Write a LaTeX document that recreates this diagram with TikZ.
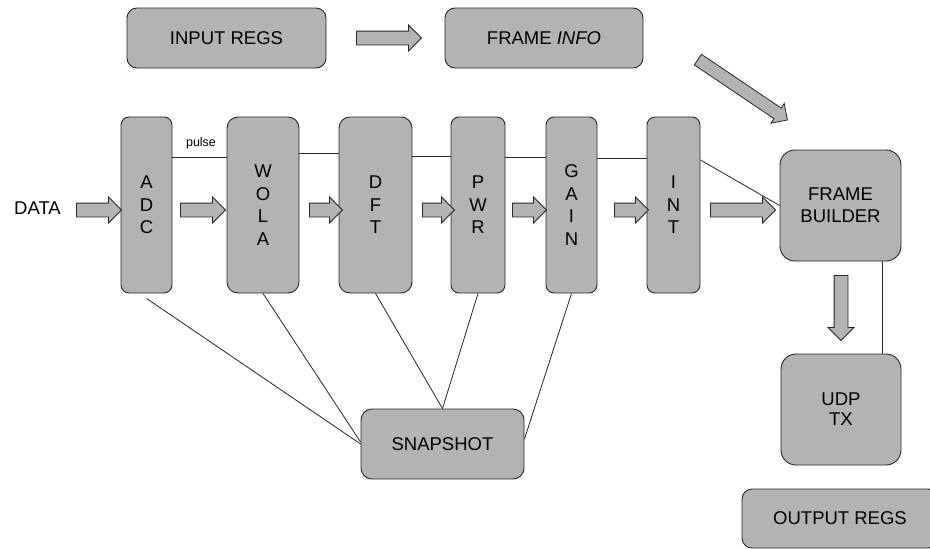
\documentclass[tikz,border=0pt]{standalone}
\usepackage{fontspec}
\setmainfont{Liberation Sans}
\usetikzlibrary{shapes.arrows}
\definecolor{boxfill}{RGB}{179,179,179}
\definecolor{boxline}{RGB}{38,38,38}
\begin{document}
\begin{tikzpicture}[x=1pt,y=-1pt,
  blk/.style={draw=boxline, fill=boxfill, line width=0.9pt, rounded corners=8pt,
    inner sep=0pt, align=center, text=black,
    font=\fontsize{18.5}{22.5}\selectfont},
  barrow/.style={single arrow, draw=boxline, fill=boxfill, line width=0.8pt,
    inner xsep=0pt, inner ysep=6.5pt, single arrow head extend=6pt,
    single arrow tip angle=90, minimum width=0pt},
  conn/.style={draw=black!85, line width=0.8pt},
  lbl/.style={inner sep=0pt, text=black}]
\clip (0,0) rectangle (930,549);
\fill[white] (0,0) rectangle (930,549);

% top row
\node[blk, minimum width=199pt, minimum height=60pt, rounded corners=10pt] (inreg) at (226.5,38) {INPUT REGS};
\node[blk, minimum width=198pt, minimum height=60pt, rounded corners=10pt] (finfo) at (544,38) {FRAME \textit{INFO}};

% processing blocks
\node[blk, minimum width=51pt, minimum height=176pt] (adc) at (146.5,205) {A\\D\\C};
\node[blk, minimum width=72pt, minimum height=176pt, rounded corners=11pt] (wola) at (263,205) {W\\O\\L\\A};
\node[blk, minimum width=73pt, minimum height=176pt, rounded corners=11pt] (dft) at (375.5,205) {D\\F\\T};
\node[blk, minimum width=54pt, minimum height=176pt] (pwr) at (478,205) {P\\W\\R};
\node[blk, minimum width=51pt, minimum height=176pt] (gain) at (571.5,205) {G\\A\\I\\N};
\node[blk, minimum width=53pt, minimum height=176pt] (int) at (673.5,205) {I\\N\\T};

\node[blk, minimum width=121pt, minimum height=111pt, rounded corners=15pt, font=\fontsize{18.5}{22}\selectfont] (fb) at (840.5,205.5) {FRAME\\BUILDER};
\node[blk, minimum width=120pt, minimum height=111pt, rounded corners=15pt, font=\fontsize{18.5}{20}\selectfont] (udp) at (841,409.5) {UDP\\TX};
\node[blk, minimum width=196pt, minimum height=59pt, rounded corners=10pt] (outreg) at (840,518.5) {OUTPUT REGS};
\node[blk, minimum width=163pt, minimum height=70pt, rounded corners=11pt] (snap) at (442.5,444) {SNAPSHOT};

% labels
\node[lbl, font=\fontsize{18.5}{22}\selectfont] (data) at (37.5,208) {DATA};
\node[lbl, font=\fontsize{12.5}{14}\selectfont] (pulse) at (201,143) {pulse};

% block arrows
\node[barrow, minimum height=65pt] (ar0) at (385.5,38) {};
\node[barrow, minimum height=45pt] (ar1) at (95.5,210) {};
\node[barrow, minimum height=45pt] (ar2) at (199.5,210) {};
\node[barrow, minimum height=33pt] (ar3) at (322.5,210) {};
\node[barrow, minimum height=32pt] (ar4) at (435,210) {};
\node[barrow, minimum height=34pt] (ar5) at (526,210) {};
\node[barrow, minimum height=34pt] (ar6) at (628,210) {};
\node[barrow, minimum height=65pt] (ar7) at (739.5,210) {};
\node[barrow, minimum height=65pt, rotate=-90] (ar8) at (841,304.5) {};
\node[barrow, minimum height=108pt, inner ysep=6pt, single arrow head extend=5.5pt, rotate=-34] (ar9) at (740,88) {};

% pulse line
\draw[conn] ([yshift=48pt]adc.east) -- ([yshift=48pt]wola.west);
\draw[conn] ([yshift=52pt]wola.east) -- ([yshift=52pt]dft.west);
\draw[conn] ([yshift=49pt]dft.east) -- ([yshift=49pt]pwr.west);
\draw[conn] ([yshift=48pt]pwr.east) -- ([yshift=48pt]gain.west);
\draw[conn] ([yshift=47pt]gain.east) -- ([yshift=47pt]int.west);
\draw[conn] ([yshift=45pt]int.east) -- (fb.west);

% snapshot lines
\draw[conn] ([yshift=-5pt]adc.south) -- (snap.west);
\draw[conn] (wola.south) -- ([yshift=2pt]snap.west);
\draw[conn] (dft.south) -- (snap.north);
\draw[conn] (pwr.south) -- (snap.north);
\draw[conn] (gain.south) -- ([yshift=5pt]snap.east);

% frame builder to udp
\draw[conn] ([xshift=41.5pt]fb.south) -- ([xshift=41pt]udp.north);
\end{tikzpicture}
\end{document}
